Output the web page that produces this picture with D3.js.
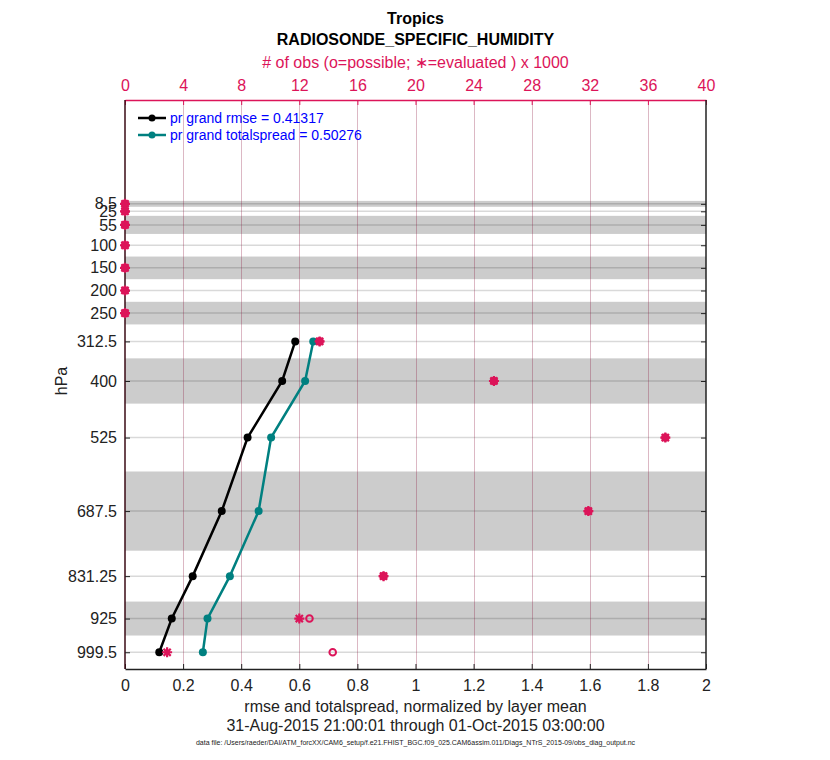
<!DOCTYPE html>
<html>
<head>
<meta charset="utf-8">
<script src="https://cdn.jsdelivr.net/npm/d3@7"></script>
<style>
  body { margin: 0; background: #fff; }
  text { font-family: "Liberation Sans", Arial, Helvetica, sans-serif; }
</style>
</head>
<body>
<div id="chart"></div>
<script>
// pressure levels (hPa) and layer edges
var levels = [8.5, 25, 55, 100, 150, 200, 250, 312.5, 400, 525, 687.5, 831.25, 925, 999.5];
var levelLabels = ["8.5", "25", "55", "100", "150", "200", "250", "312.5", "400", "525", "687.5", "831.25", "925", "999.5"];
var edges = [2, 15, 35, 75, 125, 175, 225, 275, 350, 450, 600, 775, 887.5, 962.5, 1036.5];

// normalized rmse / totalspread (null = no data)
var rmse = [null, null, null, null, null, null, null, 0.586, 0.541, 0.422, 0.333, 0.233, 0.161, 0.118];
var spread = [null, null, null, null, null, null, null, 0.648, 0.620, 0.503, 0.460, 0.361, 0.284, 0.268];

// obs counts x 1000
var nPossible = [0, 0, 0, 0, 0, 0, 0, 13.4, 25.4, 37.2, 31.9, 17.8, 12.7, 14.3];
var nUsed = [0, 0, 0, 0, 0, 0, 0, 13.4, 25.4, 37.2, 31.9, 17.8, 12.0, 2.9];

var bottomTicks = [0, 0.2, 0.4, 0.6, 0.8, 1, 1.2, 1.4, 1.6, 1.8, 2];
var topTicks = [0, 4, 8, 12, 16, 20, 24, 28, 32, 36, 40];

var legendLabels = ["pr grand rmse = 0.41317", "pr grand totalspread = 0.50276"];

var obsColor = "#dc1459";
var teal = "#008080";

var W = 830, H = 760;
var plotL = 125, plotR = 706, plotT = 100, plotB = 669;

var svg = d3.select("#chart").append("svg")
  .attr("width", W)
  .attr("height", H);

var x = d3.scaleLinear().domain([0, 2]).range([plotL, plotR]);
var xTop = d3.scaleLinear().domain([0, 40]).range([plotL, plotR]);
var y = d3.scaleLinear().domain([-221, 1036.5]).range([plotT, plotB]);

// shaded layers (every other one)
var bands = [];
levels.forEach(function(d, i) {
  if (i % 2 == 0) bands.push([edges[i], edges[i + 1]]);
});
svg.append("g").selectAll("rect")
  .data(bands)
  .enter()
  .append("rect")
  .attr("x", plotL)
  .attr("width", plotR - plotL)
  .attr("y", function(d) { return y(d[0]); })
  .attr("height", function(d) { return y(d[1]) - y(d[0]); })
  .style("fill", "#cccccc");

// horizontal grid at levels
svg.append("g").selectAll("line")
  .data(levels)
  .enter()
  .append("line")
  .attr("x1", plotL).attr("x2", plotR)
  .attr("y1", function(d) { return y(d); })
  .attr("y2", function(d) { return y(d); })
  .style("stroke", "rgba(0,0,0,0.15)")
  .style("stroke-width", 1.5);

// vertical grid from top axis
svg.append("g").selectAll("line")
  .data(topTicks.slice(1, -1))
  .enter()
  .append("line")
  .attr("x1", function(d) { return Math.round(xTop(d)) + 0.5; })
  .attr("x2", function(d) { return Math.round(xTop(d)) + 0.5; })
  .attr("y1", plotT).attr("y2", plotB)
  .style("stroke", "rgba(140,20,60,0.3)")
  .style("stroke-width", 1);

// bottom axis
var xAxis = d3.axisBottom(x)
  .tickValues(bottomTicks)
  .tickSizeInner(-5)
  .tickSizeOuter(0)
  .tickPadding(11)
  .tickFormat(d3.format("~g"));
var gx = svg.append("g")
  .attr("transform", "translate(0," + plotB + ")")
  .call(xAxis);
gx.select(".domain").style("stroke", "#222").style("stroke-width", 1.5);
gx.selectAll("line").style("stroke", "#222");
gx.selectAll("text").style("font-size", "16px").style("fill", "#222");

// top axis (obs counts)
var xAxisTop = d3.axisTop(xTop)
  .tickValues(topTicks)
  .tickSizeInner(-5)
  .tickSizeOuter(0)
  .tickPadding(9);
var gxt = svg.append("g")
  .attr("transform", "translate(0," + plotT + ")")
  .call(xAxisTop);
gxt.select(".domain").style("stroke", obsColor).style("stroke-width", 1.5);
gxt.selectAll("line").style("stroke", obsColor);
gxt.selectAll("text").style("font-size", "16px").style("fill", obsColor);

// left axis
var yAxis = d3.axisLeft(y)
  .tickValues(levels)
  .tickSizeInner(-5)
  .tickSizeOuter(0)
  .tickPadding(8)
  .tickFormat(function(d, i) { return levelLabels[i]; });
var gy = svg.append("g")
  .attr("transform", "translate(" + plotL + ",0)")
  .call(yAxis);
gy.select(".domain").attr("d", "M0," + plotT + "V" + plotB).style("stroke", "#3a0a14").style("stroke-width", 1.5);
gy.selectAll("line").style("stroke", "#222");
gy.selectAll("text").style("font-size", "16px").style("fill", "#222");

// right axis ticks
var yAxisR = d3.axisRight(y)
  .tickValues(levels)
  .tickSizeInner(-5)
  .tickSizeOuter(0)
  .tickFormat("");
var gyr = svg.append("g")
  .attr("transform", "translate(" + plotR + ",0)")
  .call(yAxisR);
gyr.select(".domain").attr("d", "M0," + plotT + "V" + plotB).style("stroke", "#222").style("stroke-width", 1.5);
gyr.selectAll("line").style("stroke", "#222");

// series
var series = [
  { vals: rmse, color: "#000" },
  { vals: spread, color: teal }
];
var line = d3.line()
  .defined(function(d) { return d.v != null; })
  .x(function(d) { return x(d.v); })
  .y(function(d) { return y(d.p); });

series.forEach(function(s) {
  var pts = levels.map(function(p, i) { return { p: p, v: s.vals[i] }; });
  svg.append("path")
    .datum(pts)
    .attr("d", line)
    .style("fill", "none")
    .style("stroke", s.color)
    .style("stroke-width", 2.5);
  svg.append("g").selectAll("circle")
    .data(pts.filter(function(d) { return d.v != null; }))
    .enter()
    .append("circle")
    .attr("cx", function(d) { return x(d.v); })
    .attr("cy", function(d) { return y(d.p); })
    .attr("r", 4)
    .style("fill", s.color);
});

// obs possible (o)
svg.append("g").selectAll("circle")
  .data(levels)
  .enter()
  .append("circle")
  .attr("cx", function(d, i) { return xTop(nPossible[i]); })
  .attr("cy", function(d) { return y(d); })
  .attr("r", 3.3)
  .style("fill", "none")
  .style("stroke", obsColor)
  .style("stroke-width", 2);

// obs evaluated (*)
var star = "M-5,0H5M0,-5V5M-3.6,-3.6L3.6,3.6M-3.6,3.6L3.6,-3.6";
svg.append("g").selectAll("path")
  .data(levels)
  .enter()
  .append("path")
  .attr("transform", function(d, i) { return "translate(" + xTop(nUsed[i]) + "," + y(d) + ")"; })
  .attr("d", star)
  .style("fill", "none")
  .style("stroke", obsColor)
  .style("stroke-width", 2.2);

// legend
var leg = svg.append("g").selectAll("g")
  .data(legendLabels)
  .enter()
  .append("g")
  .attr("transform", function(d, i) { return "translate(0," + (118 + i * 17) + ")"; });
leg.append("line")
  .attr("x1", 138).attr("x2", 166)
  .style("stroke", function(d, i) { return series[i].color; })
  .style("stroke-width", 2.5);
leg.append("circle")
  .attr("cx", 152).attr("r", 3.5)
  .style("fill", function(d, i) { return series[i].color; });
leg.append("text")
  .attr("x", 170)
  .attr("dy", "0.35em")
  .style("font-size", "14px")
  .style("fill", "#0000ff")
  .text(function(d) { return d; });

// titles and labels
var cx = (plotL + plotR) / 2;
svg.append("text").attr("x", cx).attr("y", 24)
  .attr("text-anchor", "middle")
  .style("font-size", "16px").style("font-weight", "bold")
  .text("Tropics");
svg.append("text").attr("x", cx).attr("y", 45)
  .attr("text-anchor", "middle")
  .style("font-size", "16px").style("font-weight", "bold")
  .text("RADIOSONDE_SPECIFIC_HUMIDITY");
svg.append("text").attr("x", cx).attr("y", 68)
  .attr("text-anchor", "middle")
  .style("font-size", "16px").style("fill", obsColor)
  .text("# of obs (o=possible; \u2217=evaluated ) x 1000");
svg.append("text").attr("x", cx).attr("y", 712)
  .attr("text-anchor", "middle")
  .style("font-size", "16px").style("fill", "#222")
  .text("rmse and totalspread, normalized by layer mean");
svg.append("text").attr("x", cx).attr("y", 731)
  .attr("text-anchor", "middle")
  .style("font-size", "16px").style("fill", "#222")
  .text("31-Aug-2015 21:00:01 through 01-Oct-2015 03:00:00");
svg.append("text").attr("x", cx).attr("y", 745)
  .attr("text-anchor", "middle")
  .style("font-size", "7px").style("fill", "#222")
  .text("data file: /Users/raeder/DAI/ATM_forcXX/CAM6_setup/f.e21.FHIST_BGC.f09_025.CAM6assim.011/Diags_NTrS_2015-09/obs_diag_output.nc");
svg.append("text")
  .attr("transform", "translate(67," + y(400) + ") rotate(-90)")
  .attr("text-anchor", "middle")
  .style("font-size", "16px").style("fill", "#222")
  .text("hPa");
</script>
</body>
</html>
